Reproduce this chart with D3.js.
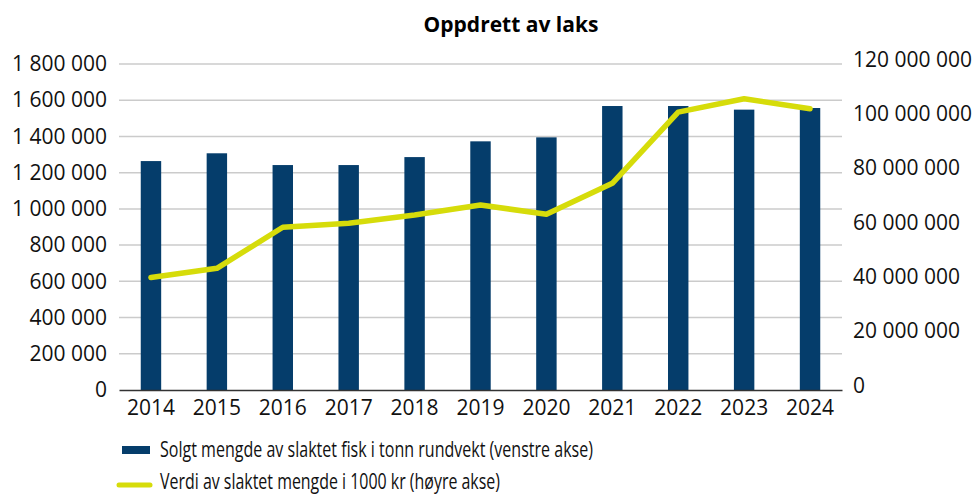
<!DOCTYPE html>
<html>
<head>
<meta charset="utf-8">
<script src="https://cdn.jsdelivr.net/npm/d3@7"></script>
<style>
  body { margin: 0; background: #fff; }
  svg { display: block; font-family: "Open Sans", "Noto Sans", sans-serif; }
</style>
</head>
<body>
<svg id="chart" width="975" height="494"></svg>
<script>
// data
const years = ["2014","2015","2016","2017","2018","2019","2020","2021","2022","2023","2024"];
const tonn = [1264000, 1307000, 1242000, 1242000, 1286000, 1373000, 1395000, 1568000, 1568000, 1548000, 1557000];
const verdi = [41400000, 44800000, 59900000, 61400000, 64400000, 68100000, 64700000, 76100000, 102300000, 107200000, 103500000];
const leftTicks = [0, 200000, 400000, 600000, 800000, 1000000, 1200000, 1400000, 1600000, 1800000];
const rightTicks = [0, 20000000, 40000000, 60000000, 80000000, 100000000, 120000000];
const legendLabels = [
    "Solgt mengde av slaktet fisk i tonn rundvekt (venstre akse)",
    "Verdi av slaktet mengde i 1000 kr (høyre akse)"
];

const barColor = "#053d6b";
const lineColor = "#d6dc0a";
const margin = {left: 119, right: 133, top: 64, bottom: 104};
const width = 975, height = 494;

const svg = d3.select("#chart");

/** space as thousands separator */
const fmt = v => d3.format(",")(v).replace(/,/g, " ");

const x = d3.scaleBand()
    .domain(years)
    .range([margin.left, width - margin.right])
    .paddingInner(0.69)
    .paddingOuter(0.33);
const yLeft = d3.scaleLinear()
    .domain([0, 1800000])
    .range([height - margin.bottom, margin.top]);
const yRight = d3.scaleLinear()
    .domain([0, 120000000])
    .range([height - margin.bottom, margin.top]);

// TITLE
svg.append("text")
    .attr("x", 511).attr("y", 32)
    .attr("text-anchor", "middle")
    .style("font-size", "21px").style("font-weight", "bold")
    .text("Oppdrett av laks");

// GRID
svg.append("g")
    .selectAll("line")
    .data(leftTicks.slice(1))
    .join("line")
    .attr("x1", margin.left).attr("x2", width - margin.right)
    .attr("y1", d => yLeft(d)).attr("y2", d => yLeft(d))
    .attr("stroke", "#cbcbcb").attr("stroke-width", 1.5);

// LEFT AXIS
const gl = svg.append("g")
    .attr("transform", `translate(${margin.left},0)`)
    .call(d3.axisLeft(yLeft).tickValues(leftTicks).tickFormat(fmt).tickSize(0).tickPadding(12))
    .attr("font-family", null).attr("font-size", null);
gl.select(".domain").remove();
gl.selectAll("text").style("font-size", "21px").attr("fill", "#111");

// RIGHT AXIS
const gr = svg.append("g")
    .attr("transform", `translate(${width - margin.right},0)`)
    .call(d3.axisRight(yRight).tickValues(rightTicks).tickFormat(fmt).tickSize(0).tickPadding(11))
    .attr("font-family", null).attr("font-size", null);
gr.select(".domain").remove();
gr.selectAll("text").style("font-size", "21px").attr("fill", "#111")
    .attr("dy", "0.1em");

// BARS
svg.append("g")
    .selectAll("rect")
    .data(tonn)
    .join("rect")
    .attr("x", (d, i) => x(years[i]))
    .attr("y", d => yLeft(d))
    .attr("width", x.bandwidth())
    .attr("height", d => yLeft(0) - yLeft(d))
    .attr("fill", barColor);

// X AXIS
const gx = svg.append("g")
    .attr("transform", `translate(0,${height - margin.bottom})`)
    .call(d3.axisBottom(x).tickSize(0).tickPadding(10))
    .attr("font-family", null).attr("font-size", null);
gx.select(".domain").attr("stroke", "#333").attr("stroke-width", 1.5);
gx.selectAll("text").style("font-size", "21px").attr("fill", "#111");

// LINE
const line = d3.line()
    .x((d, i) => x(years[i]) + x.bandwidth() / 2)
    .y(d => yRight(d));
svg.append("path")
    .datum(verdi)
    .attr("d", line)
    .attr("fill", "none")
    .attr("stroke", lineColor)
    .attr("stroke-width", 5.5)
    .attr("stroke-linejoin", "round")
    .attr("stroke-linecap", "round");

// LEGEND
const legend = svg.append("g").attr("transform", "translate(122,0)");
legend.append("rect")
    .attr("x", 0).attr("y", 446).attr("width", 28).attr("height", 8)
    .attr("fill", barColor);
legend.append("line")
    .attr("x1", -3).attr("x2", 28).attr("y1", 485).attr("y2", 485)
    .attr("stroke", lineColor).attr("stroke-width", 5).attr("stroke-linecap", "round");
legend.selectAll("text")
    .data(legendLabels)
    .join("text")
    .attr("x", 38)
    .attr("y", (d, i) => 457 + i * 32)
    .attr("textLength", (d, i) => [433, 340][i])
    .attr("lengthAdjust", "spacingAndGlyphs")
    .style("font-size", "22px").attr("fill", "#111")
    .text(d => d);
</script>
</body>
</html>
